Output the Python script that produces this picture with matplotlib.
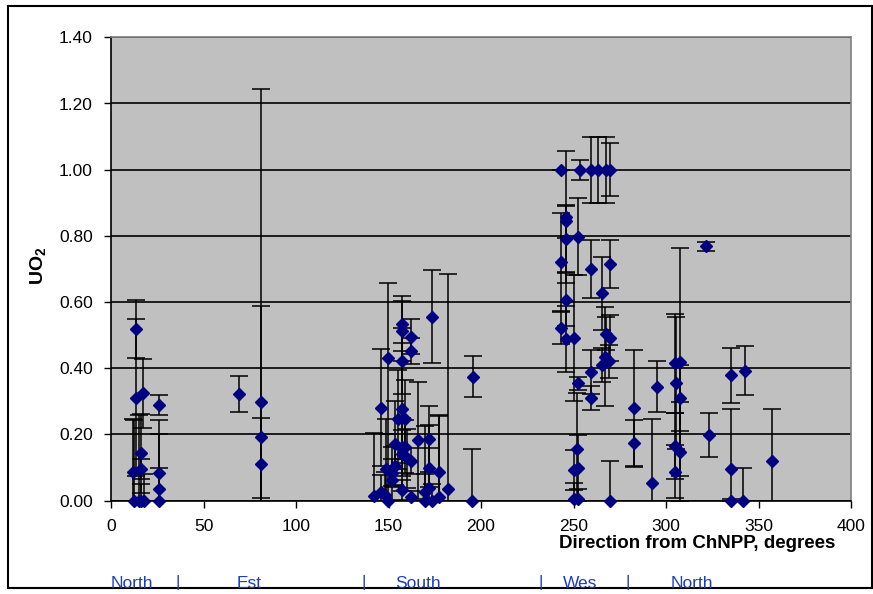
import numpy as np
import matplotlib
matplotlib.use('Agg')
import matplotlib.pyplot as plt
from matplotlib.patches import Rectangle

plt.rcParams['font.family'] = ['Liberation Sans', 'DejaVu Sans']
plt.rcParams['mathtext.fontset'] = 'custom'
plt.rcParams['mathtext.rm'] = 'Liberation Sans'
plt.rcParams['mathtext.bf'] = 'Liberation Sans:bold'

# direction (deg), UO2 fraction, error (+/-)
north_deg = [11.8, 12.7, 13.7, 13.7, 15.1, 16.0, 16.0, 16.4, 17.4, 17.8, 25.9, 25.9, 25.9, 25.9]
north_val = [0.088, 0.0, 0.518, 0.311, 0.0, 0.143, 0.096, 0.0, 0.324, 0.0, 0.289, 0.083, 0.035, 0.0]
north_err = [0.16, 0.245, 0.087, 0.237, 0.26, 0.12, 0.03, 0.05, 0.105, 0.08, 0.03, 0.16, 0.065, 0.2]

est_deg = [69.4, 81.3, 81.3, 81.3]
est_val = [0.323, 0.298, 0.193, 0.111]
est_err = [0.055, 0.289, 1.052, 0.14]

south_deg = [142.0, 145.7, 145.7, 147.9, 149.7, 148.6, 149.7, 151.9, 151.9, 153.7,
             153.7, 154.9, 157.3, 157.3, 157.3, 157.3, 159.1, 157.3, 159.1, 157.3,
             160.0, 162.1, 157.3, 162.1, 162.1, 162.1, 165.7, 169.7, 169.7, 171.7,
             171.7, 171.7, 173.5, 173.5, 177.4, 177.4, 181.9, 195.8, 194.9]
south_val = [0.014, 0.281, 0.027, 0.017, 0.431, 0.096, 0.0, 0.085, 0.063, 0.17,
             0.106, 0.246, 0.535, 0.513, 0.423, 0.276, 0.246, 0.163, 0.163, 0.14,
             0.128, 0.12, 0.032, 0.496, 0.453, 0.01, 0.183, 0.027, 0.0, 0.186,
             0.1, 0.039, 0.556, 0.0, 0.086, 0.01, 0.034, 0.375, 0.0]
south_err = [0.19, 0.177, 0.05, 0.07, 0.228, 0.15, 0.2, 0.04, 0.1, 0.13,
             0.06, 0.15, 0.082, 0.09, 0.1, 0.2, 0.12, 0.05, 0.08, 0.11,
             0.09, 0.04, 0.03, 0.052, 0.04, 0.02, 0.177, 0.2, 0.08, 0.1,
             0.06, 0.19, 0.14, 0.05, 0.171, 0.25, 0.65, 0.062, 0.155]

west_deg = [243.5, 246.0, 246.0, 246.0, 243.5, 246.0, 243.5, 246.0, 253.4, 252.7,
            250.5, 252.7, 251.9, 250.5, 252.7, 250.5, 252.7, 259.3, 263.4, 267.4,
            269.6, 259.7, 269.6, 265.6, 267.8, 269.6, 267.1, 265.6, 269.2, 259.7,
            259.7, 269.6, 282.6, 282.6, 292.6, 295.0, 304.9, 307.4, 305.6, 307.4,
            304.9, 307.4, 304.9, 321.8, 323.2, 334.9, 342.7, 334.9, 334.9, 341.8, 357.1]
west_val = [1.0, 0.857, 0.844, 0.79, 0.72, 0.607, 0.522, 0.488, 1.0, 0.798,
            0.492, 0.355, 0.155, 0.093, 0.098, 0.004, 0.005, 1.0, 1.0, 1.0,
            1.0, 0.7, 0.716, 0.626, 0.504, 0.492, 0.435, 0.41, 0.421, 0.389,
            0.311, 0.0, 0.28, 0.173, 0.053, 0.345, 0.415, 0.419, 0.355, 0.311,
            0.165, 0.147, 0.087, 0.768, 0.199, 0.379, 0.392, 0.095, 0.0, 0.0, 0.121]
west_err = [0.0, 0.2, 0.05, 0.1, 0.15, 0.08, 0.05, 0.1, 0.03, 0.116,
            0.19, 0.02, 0.17, 0.06, 0.1, 0.05, 0.03, 0.1, 0.1, 0.1,
            0.08, 0.088, 0.072, 0.11, 0.05, 0.07, 0.15, 0.05, 0.05, 0.067,
            0.037, 0.121, 0.176, 0.07, 0.193, 0.078, 0.15, 0.345, 0.2, 0.1,
            0.1, 0.15, 0.08, 0.015, 0.066, 0.083, 0.074, 0.181, 0.005, 0.1, 0.155]

deg = np.array(north_deg + est_deg + south_deg + west_deg)
val = np.array(north_val + est_val + south_val + west_val)
err = np.array(north_err + est_err + south_err + west_err)

sector_names = ['North', '|', 'Est', '|', 'South', '|', 'Wes', '|', 'North']
sector_px = [132, 178, 249, 364, 418, 541, 580, 628, 692]

W, H = 873, 594
fig = plt.figure(figsize=(W / 100, H / 100), dpi=100)
ax = fig.add_axes([111 / W, 1 - 500.7 / H, (851 - 111) / W, (500.7 - 37.3) / H])
ax.set_facecolor('#C0C0C0')

ax.errorbar(deg, val, yerr=err, fmt='none', ecolor='black', elinewidth=1.1,
            capsize=6.5, capthick=1.1, zorder=3, clip_on=True)
ax.plot(deg, val, 'D', color='#000080', ms=6.3, mec='#000080', zorder=4, clip_on=False)

ax.set_xlim(0, 400)
ax.set_ylim(0, 1.4)
ax.set_xticks(np.arange(0, 401, 50))
ax.set_yticks(np.arange(0, 1.41, 0.2))
ax.set_yticklabels(['%.2f' % v for v in np.arange(0, 1.41, 0.2)])
ax.yaxis.grid(True, color='black', lw=1.2)
ax.set_axisbelow(True)
ax.tick_params(direction='out', length=5, width=1, labelsize=12.5, pad=8)

for s in ['top', 'right']:
    ax.spines[s].set_color('#808080')
    ax.spines[s].set_linewidth(1.2)
for s in ['left', 'bottom']:
    ax.spines[s].set_color('black')
    ax.spines[s].set_linewidth(1.2)

ax.set_xlabel('Direction from ChNPP, degrees', fontsize=13.5, fontweight='bold',
              ha='right', va='center')
ax.xaxis.set_label_coords((835 - 111) / 740, (500.7 - 544) / 463.4)
ax.set_ylabel(r'$\mathbf{UO_2}$', fontsize=14, va='center')
ax.yaxis.set_label_coords((38 - 111) / 740, (500.7 - 266) / 463.4)

for name, px in zip(sector_names, sector_px):
    fig.text(px / W, 1 - 583 / H, name, color='#1f3cbf', fontsize=12.5,
             ha='center', va='center')

fig.patches.append(Rectangle((7.5 / W, 1 - 588 / H), (872 - 7.5) / W, (588 - 6) / H,
                             transform=fig.transFigure, fill=False,
                             edgecolor='black', lw=1.5))

fig.savefig('out.png', dpi=100, facecolor='white')
